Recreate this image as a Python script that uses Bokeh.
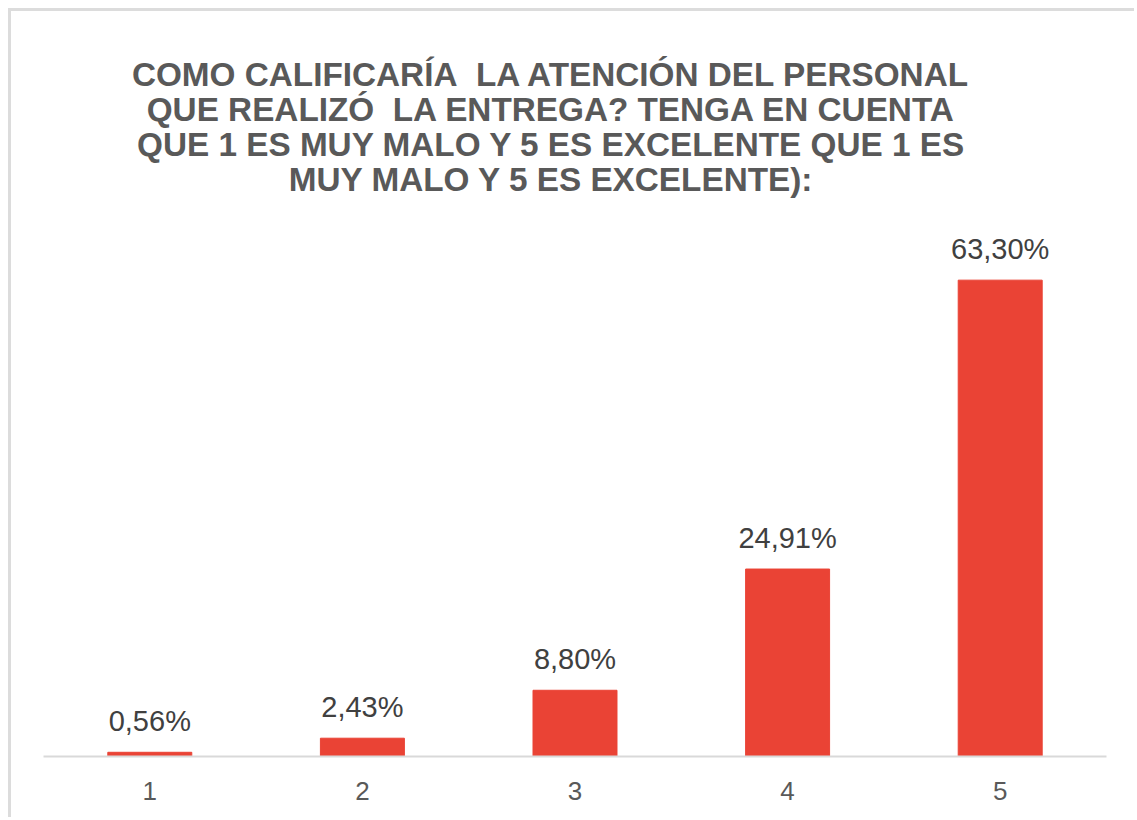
from bokeh.plotting import figure
from bokeh.models import ColumnDataSource, Label, FixedTicker, Range1d
from bokeh.core.properties import value
from bokeh.embed import file_html
from bokeh.resources import INLINE

# data
categories = [1, 2, 3, 4, 5]
percentages = [0.56, 2.43, 8.80, 24.91, 63.30]
value_labels = ["0,56%", "2,43%", "8,80%", "24,91%", "63,30%"]
title_lines = [
    "COMO CALIFICARÍA\u00a0 LA ATENCIÓN DEL PERSONAL",
    "QUE REALIZÓ\u00a0 LA ENTREGA? TENGA EN CUENTA",
    "QUE 1 ES MUY MALO Y 5 ES EXCELENTE QUE 1 ES",
    "MUY MALO Y 5 ES EXCELENTE):",
]

source = ColumnDataSource(dict(x=categories, y=percentages, lab=value_labels))

p = figure(width=1126, height=809, output_backend="svg", toolbar_location=None,
           x_range=Range1d(0.5, 5.5), y_range=Range1d(0, 99),
           min_border_left=32, min_border_right=31, min_border_top=0,
           min_border_bottom=64)
p.styles = {"border-top": "3px solid #dcdcdc", "border-left": "3px solid #dcdcdc",
            "margin-left": "8px", "margin-top": "8px"}
p.outline_line_color = None
p.xgrid.visible = False
p.ygrid.visible = False
p.yaxis.visible = False

p.vbar(x="x", top="y", width=0.395, bottom=0, source=source,
       fill_color="#EA4335", line_color="#EA4335")

p.text(x="x", y="y", text="lab", source=source, text_align="center",
       text_baseline="alphabetic", y_offset=-31,
       text_font=value("Liberation Sans"), text_font_size="29px",
       text_color="#404040")

ax = p.xaxis[0]
ax.ticker = FixedTicker(ticks=categories)
ax.axis_line_color = "#d9d9d9"
ax.axis_line_width = 2
ax.major_tick_line_color = None
ax.minor_tick_line_color = None
ax.major_label_text_font = "Liberation Sans"
ax.major_label_text_font_size = "26px"
ax.major_label_text_color = "#595959"
ax.major_label_standoff = 19

ys = [682, 647, 612, 577]
for t, yy in zip(title_lines, ys):
    p.add_layout(Label(x=508, y=yy, x_units="screen", y_units="screen", text=t,
                       text_align="center", text_baseline="middle",
                       text_font="Liberation Sans", text_font_style="bold",
                       text_font_size="33.3px", text_color="#595959"))

open("out.html", "w").write(file_html(p, INLINE))
